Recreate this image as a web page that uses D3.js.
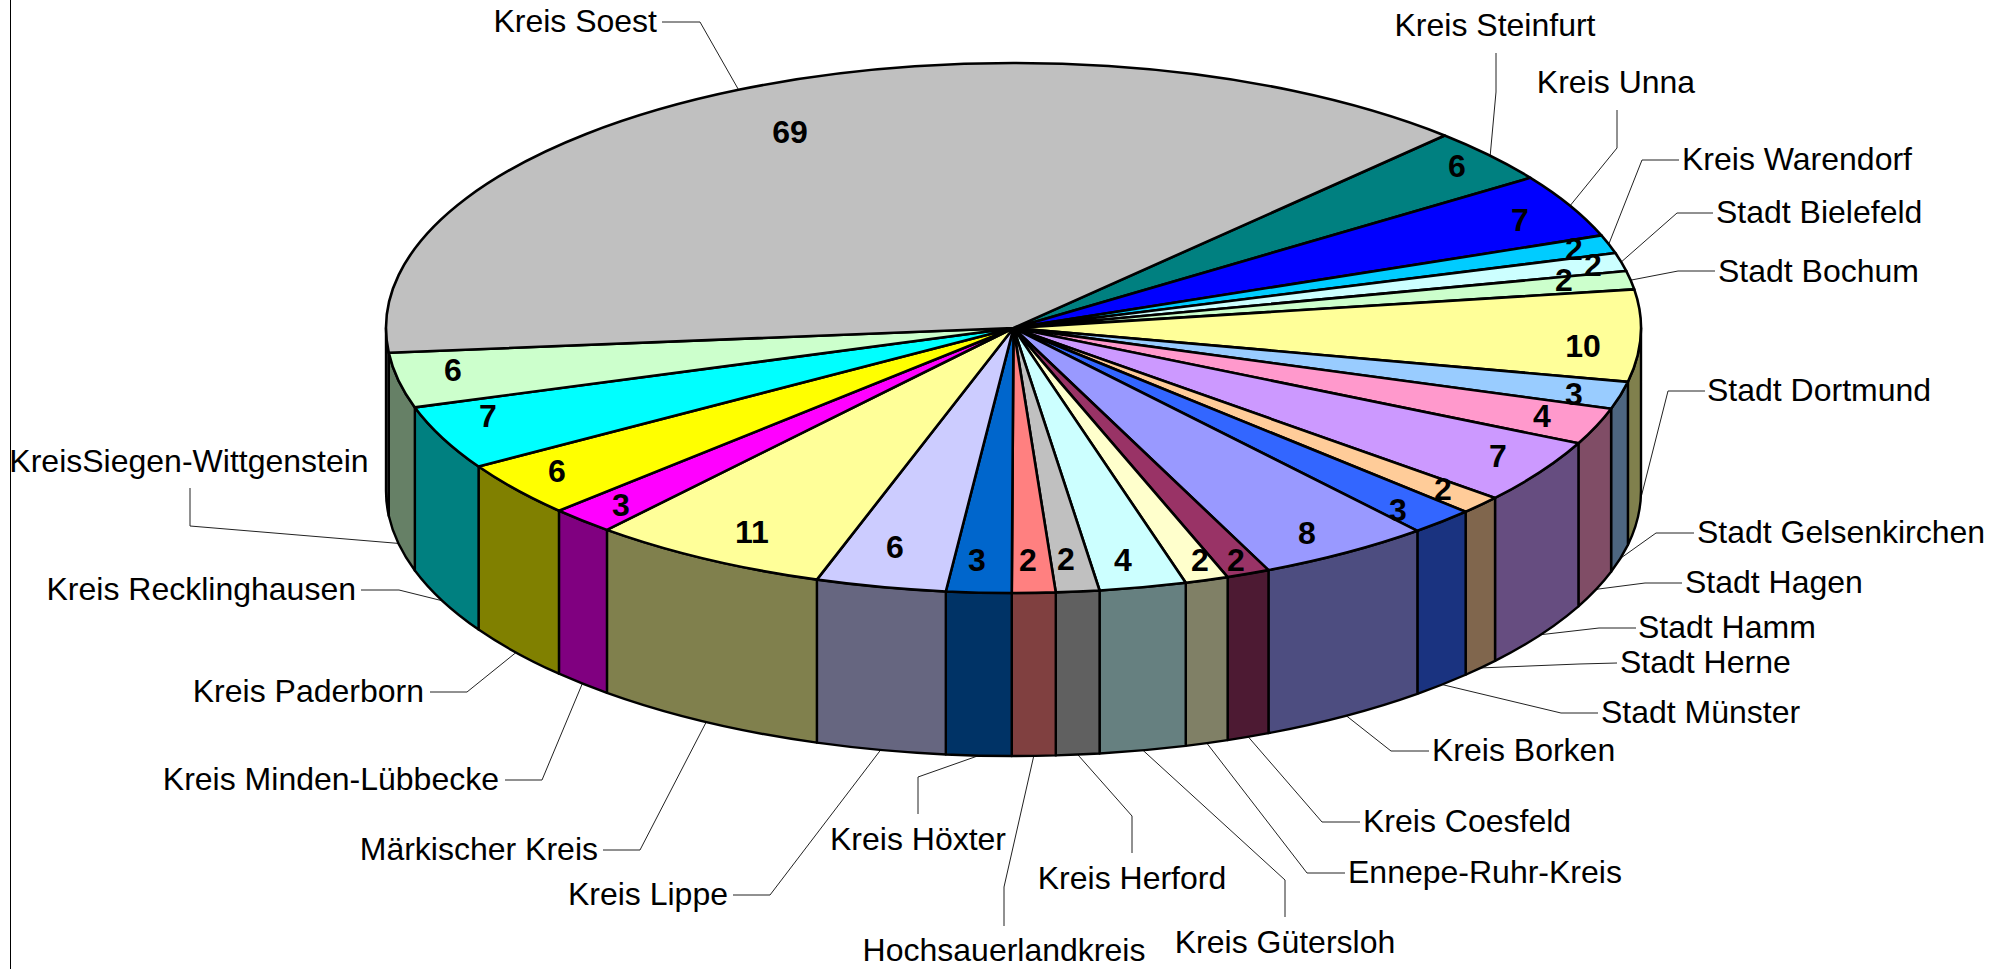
<!DOCTYPE html>
<html><head><meta charset="utf-8">
<style>html,body{margin:0;padding:0;background:#fff;overflow:hidden}svg{display:block}text{font-family:"Liberation Sans",Arial,sans-serif;fill:#000}</style>
<script src="https://cdn.jsdelivr.net/npm/d3@7"></script></head><body>
<svg id="c" width="2013" height="969"></svg>
<script>
const categories=["Kreis Steinfurt","Kreis Unna","Kreis Warendorf","Stadt Bielefeld","Stadt Bochum","Stadt Dortmund","Stadt Gelsenkirchen","Stadt Hagen","Stadt Hamm","Stadt Herne","Stadt Münster","Kreis Borken","Kreis Coesfeld","Ennepe-Ruhr-Kreis","Kreis Gütersloh","Kreis Herford","Hochsauerlandkreis","Kreis Höxter","Kreis Lippe","Märkischer Kreis","Kreis Minden-Lübbecke","Kreis Paderborn","Kreis Recklinghausen","KreisSiegen-Wittgenstein","Kreis Soest"];
const values=[6,7,2,2,2,10,3,4,7,2,3,8,2,2,4,2,2,3,6,11,3,6,7,6,69];
const topColors=["#008080","#0000FF","#00CCFF","#CCFFFF","#CCFFCC","#FFFF99","#99CCFF","#FF99CC","#CC99FF","#FFCC99","#3366FF","#9999FF","#993366","#FFFFCC","#CCFFFF","#C0C0C0","#FF8080","#0066CC","#CCCCFF","#FFFF99","#FF00FF","#FFFF00","#00FFFF","#CCFFCC","#C0C0C0"];
// text layout: [label x, label y, text-anchor, start of leader, elbow of leader]
const labelLayout=[
[1495,26,"middle",[1496,53],[1496,92]],
[1616,83,"middle",[1617,110],[1617,148]],
[1682,160,"start",[1679,160],[1642,160]],
[1716,213,"start",[1713,213],[1677,213]],
[1718,272,"start",[1715,271],[1678,271]],
[1707,391,"start",[1705,391],[1668,391]],
[1697,533,"start",[1694,533],[1656,533]],
[1685,583,"start",[1682,583],[1645,583]],
[1638,628,"start",[1636,628],[1599,628]],
[1620,663,"start",[1617,663],[1579,664]],
[1601,713,"start",[1598,713],[1561,713]],
[1432,751,"start",[1429,751],[1391,751]],
[1363,822,"start",[1360,822],[1322,822]],
[1348,873,"start",[1345,873],[1307,873]],
[1285,943,"middle",[1285,917],[1285,880]],
[1132,879,"middle",[1132,853],[1132,816]],
[1004,951.5,"middle",[1004,926],[1004,887]],
[918,840,"middle",[918,814],[918,777]],
[728,895,"end",[733,895],[770,895]],
[598,850,"end",[603,850],[640,850]],
[499,780,"end",[505,780],[542,780]],
[424,692,"end",[430,692],[467,692]],
[356,590,"end",[361,590],[399,590]],
[189,462,"middle",[190,488],[190,526]],
[657,22,"end",[662,22],[700,22]]];
const valueLabelPos=[[1457,167],[1520,221],[1574,250],[1593,266],[1564,281],[1583,347],[1574,395],[1542,417],[1498,457],[1443,490],[1398,511],[1307,534],[1236,561],[1200,561],[1123,561],[1066,560],[1028,561],[977,561],[895,548],[752,533],[621,506],[557,472],[488,417],[453,371],[790,133]];

const cx=1013.5,cy=328,rx=627.5,ry=265,depth=163,fs=32;
const svg=d3.select("#c");
svg.append("line").attr("x1",10.5).attr("x2",10.5).attr("y1",0).attr("y2",969).attr("stroke","#000").attr("stroke-width",1);
const start=43.4*Math.PI/180;
const arcs=d3.pie().sort(null).startAngle(start).endAngle(start+2*Math.PI)(values);
const pt=(a,dy=0)=>[cx+rx*Math.sin(a),cy-ry*Math.cos(a)+dy];
const darker=c=>{const r=d3.rgb(c);return d3.rgb(r.r/2,r.g/2,r.b/2).formatHex();};
const rimArc=(a0,a1,dy)=>{const p=pt(a1,dy);return `A${rx},${ry} 0 ${a1-a0>Math.PI?1:0} 1 ${p[0]},${p[1]}`;};

// leader lines (under the pie)
const leaders=svg.append("g").attr("fill","none").attr("stroke","#222").attr("stroke-width",1);
arcs.forEach((d,i)=>{
  let m=(d.startAngle+d.endAngle)/2; const n=((m%(2*Math.PI))+2*Math.PI)%(2*Math.PI);
  const front=n>Math.PI/2&&n<3*Math.PI/2;
  const end=pt(m,front?depth:0), l=labelLayout[i];
  leaders.append("path").attr("d",d3.line()([l[3],l[4],end]));
});

// side walls
const HALF=Math.PI/2;
const sides=svg.append("g");
arcs.forEach((d,i)=>{
  [0,2*Math.PI].forEach(off=>{
    const a0=Math.max(d.startAngle-off,HALF),a1=Math.min(d.endAngle-off,3*HALF);
    if(a1<=a0)return;
    const p0=pt(a0),p1=pt(a1,depth);
    sides.append("path")
      .attr("d",`M${p0}${rimArc(a0,a1,0)}L${p1}${(()=>{const q=pt(a0,depth);return `A${rx},${ry} 0 0 0 ${q[0]},${q[1]}`})()}Z`)
      .attr("fill",darker(topColors[i])).attr("stroke","#000").attr("stroke-width",2.4).attr("stroke-linejoin","round");
  });
});

// top slices
const tops=svg.append("g");
arcs.forEach((d,i)=>{
  const p0=pt(d.startAngle);
  tops.append("path")
    .attr("d",`M${cx},${cy}L${p0}${rimArc(d.startAngle,d.endAngle,0)}Z`)
    .attr("fill",topColors[i]).attr("stroke","#000").attr("stroke-width",2.6).attr("stroke-linejoin","round");
});

// value labels
svg.append("g").selectAll("text").data(values).join("text")
  .attr("x",(d,i)=>valueLabelPos[i][0]).attr("y",(d,i)=>valueLabelPos[i][1]).attr("dy",".31em")
  .attr("text-anchor","middle").attr("font-size",fs).attr("font-weight","bold").text(d=>d);
// category labels
svg.append("g").selectAll("text").data(categories).join("text")
  .attr("x",(d,i)=>labelLayout[i][0]).attr("y",(d,i)=>labelLayout[i][1]).attr("dy",".31em")
  .attr("text-anchor",(d,i)=>labelLayout[i][2]).attr("font-size",fs).text(d=>d);
</script></body></html>
